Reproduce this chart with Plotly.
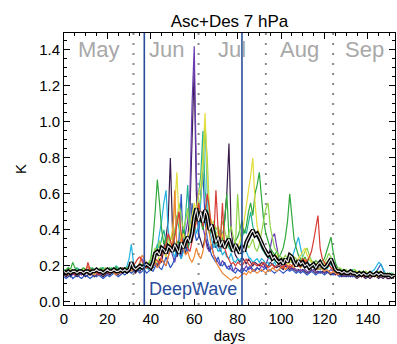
import plotly.graph_objects as go

# ---------------- data ----------------
DAYS = list(range(153))
MONTH_NAMES = ["May", "Jun", "Jul", "Aug", "Sep"]
MONTH_STARTS = [0, 32, 62, 93, 124, 153]   # day index where each month begins
DEEPWAVE = [37, 82]                         # campaign window
X_TICKS = [0, 20, 40, 60, 80, 100, 120, 140]
Y_TICKS = [0.0, 0.2, 0.4, 0.6, 0.8, 1.0, 1.2, 1.4]

purple = [
 0.16,0.15,0.17,0.16,0.15,0.16,0.17,0.16,0.15,0.16,
 0.17,0.16,0.15,0.16,0.17,0.18,0.16,0.15,0.17,0.16,
 0.17,0.18,0.16,0.17,0.19,0.17,0.16,0.18,0.17,0.16,
 0.17,0.19,0.18,0.17,0.18,0.22,0.24,0.21,0.19,0.20,
 0.18,0.20,0.22,0.19,0.21,0.24,0.22,0.20,0.25,0.30,
 0.26,0.22,0.28,0.30,0.25,0.32,0.38,0.45,0.60,1.10,
 1.42,0.70,0.40,0.50,0.42,0.35,0.30,0.28,0.32,0.26,
 0.24,0.22,0.20,0.23,0.21,0.19,0.20,0.18,0.17,0.19,
 0.18,0.17,0.19,0.18,0.20,0.18,0.19,0.17,0.18,0.19,
 0.18,0.20,0.19,0.21,0.24,0.30,0.36,0.38,0.32,0.24,
 0.22,0.20,0.21,0.19,0.20,0.18,0.19,0.18,0.17,0.18,
 0.17,0.18,0.17,0.16,0.17,0.18,0.17,0.16,0.17,0.16,
 0.17,0.16,0.17,0.18,0.17,0.16,0.15,0.16,0.15,0.16,
 0.15,0.16,0.15,0.14,0.15,0.16,0.15,0.14,0.15,0.14,
 0.15,0.14,0.15,0.16,0.15,0.14,0.15,0.14,0.15,0.14,
 0.14,0.15,0.14]

dark = [
 0.15,0.14,0.15,0.14,0.16,0.15,0.14,0.15,0.16,0.15,
 0.14,0.15,0.16,0.15,0.14,0.15,0.16,0.15,0.14,0.15,
 0.16,0.15,0.16,0.17,0.16,0.15,0.17,0.16,0.17,0.16,
 0.17,0.18,0.17,0.16,0.18,0.17,0.19,0.18,0.20,0.19,
 0.21,0.19,0.22,0.20,0.24,0.22,0.30,0.36,0.45,0.80,
 0.40,0.30,0.25,0.28,0.24,0.30,0.27,0.35,0.50,0.90,
 1.30,0.60,0.38,0.34,0.30,0.36,0.32,0.28,0.30,0.34,
 0.30,0.32,0.28,0.35,0.45,0.60,0.88,0.40,0.30,0.26,
 0.24,0.22,0.25,0.23,0.21,0.24,0.22,0.20,0.22,0.21,
 0.20,0.22,0.21,0.19,0.20,0.22,0.21,0.20,0.19,0.20,
 0.19,0.18,0.20,0.19,0.18,0.19,0.18,0.17,0.18,0.17,
 0.18,0.17,0.16,0.17,0.18,0.17,0.16,0.17,0.16,0.17,
 0.16,0.17,0.16,0.15,0.16,0.15,0.16,0.15,0.14,0.15,
 0.14,0.15,0.14,0.15,0.14,0.13,0.14,0.15,0.14,0.13,
 0.14,0.13,0.14,0.15,0.14,0.13,0.14,0.13,0.14,0.13,
 0.13,0.14,0.13]

blue = [
 0.14,0.13,0.14,0.15,0.13,0.14,0.15,0.14,0.13,0.14,
 0.15,0.14,0.13,0.14,0.15,0.14,0.15,0.14,0.13,0.14,
 0.15,0.14,0.15,0.16,0.15,0.14,0.15,0.16,0.15,0.16,
 0.17,0.16,0.17,0.18,0.17,0.16,0.17,0.18,0.16,0.17,
 0.18,0.17,0.20,0.22,0.19,0.18,0.21,0.25,0.22,0.19,
 0.21,0.24,0.27,0.35,0.60,0.30,0.30,0.28,0.36,0.55,
 0.40,0.34,0.36,0.60,0.72,0.45,0.35,0.30,0.26,0.24,
 0.22,0.25,0.21,0.20,0.22,0.19,0.18,0.21,0.17,0.16,
 0.18,0.17,0.16,0.18,0.17,0.19,0.20,0.18,0.17,0.19,
 0.18,0.17,0.18,0.19,0.17,0.18,0.17,0.16,0.17,0.18,
 0.17,0.16,0.17,0.18,0.17,0.18,0.17,0.16,0.17,0.16,
 0.17,0.16,0.15,0.16,0.17,0.16,0.15,0.16,0.17,0.16,
 0.15,0.16,0.17,0.16,0.15,0.16,0.15,0.14,0.15,0.14,
 0.15,0.14,0.15,0.14,0.15,0.14,0.15,0.16,0.15,0.14,
 0.15,0.14,0.15,0.16,0.17,0.19,0.21,0.18,0.15,0.14,
 0.15,0.14,0.15]

cyan = [
 0.16,0.17,0.16,0.18,0.17,0.16,0.17,0.18,0.17,0.16,
 0.17,0.16,0.17,0.18,0.17,0.16,0.17,0.18,0.19,0.17,
 0.18,0.17,0.18,0.19,0.18,0.17,0.18,0.19,0.18,0.20,
 0.24,0.32,0.22,0.19,0.20,0.18,0.19,0.21,0.19,0.18,
 0.20,0.22,0.26,0.30,0.38,0.45,0.55,0.62,0.40,0.30,
 0.28,0.25,0.30,0.27,0.24,0.28,0.32,0.30,0.35,0.40,
 0.45,0.38,0.42,0.55,0.85,1.00,0.60,0.40,0.35,0.30,
 0.32,0.28,0.30,0.26,0.28,0.25,0.24,0.27,0.23,0.22,
 0.24,0.23,0.25,0.30,0.28,0.25,0.24,0.22,0.23,0.24,
 0.22,0.24,0.23,0.21,0.22,0.20,0.21,0.22,0.20,0.21,
 0.20,0.22,0.21,0.24,0.26,0.24,0.28,0.32,0.36,0.30,
 0.24,0.22,0.20,0.21,0.19,0.20,0.19,0.18,0.19,0.20,
 0.19,0.18,0.20,0.21,0.19,0.18,0.17,0.18,0.17,0.16,
 0.17,0.16,0.17,0.16,0.15,0.16,0.17,0.16,0.15,0.16,
 0.15,0.16,0.17,0.18,0.20,0.22,0.21,0.18,0.16,0.15,
 0.16,0.15,0.16]

teal = [
 0.18,0.17,0.19,0.18,0.17,0.18,0.19,0.18,0.17,0.18,
 0.17,0.18,0.19,0.18,0.17,0.18,0.17,0.18,0.19,0.18,
 0.17,0.18,0.19,0.18,0.20,0.19,0.18,0.19,0.18,0.19,
 0.20,0.22,0.21,0.19,0.20,0.21,0.20,0.22,0.21,0.20,
 0.22,0.24,0.28,0.32,0.30,0.35,0.40,0.33,0.30,0.28,
 0.32,0.38,0.48,0.40,0.34,0.30,0.45,0.65,0.40,0.45,
 0.52,0.45,0.60,0.70,0.95,0.62,0.50,0.45,0.40,0.42,
 0.38,0.35,0.40,0.36,0.32,0.35,0.30,0.28,0.32,0.30,
 0.28,0.30,0.35,0.40,0.38,0.45,0.50,0.42,0.38,0.36,
 0.34,0.30,0.28,0.26,0.25,0.24,0.26,0.23,0.22,0.24,
 0.22,0.21,0.23,0.22,0.24,0.22,0.21,0.20,0.22,0.21,
 0.20,0.21,0.22,0.20,0.21,0.19,0.20,0.19,0.18,0.19,
 0.18,0.19,0.20,0.22,0.20,0.18,0.17,0.18,0.17,0.18,
 0.17,0.16,0.17,0.18,0.17,0.16,0.17,0.16,0.15,0.16,
 0.16,0.15,0.16,0.15,0.16,0.17,0.16,0.15,0.16,0.15,
 0.15,0.16,0.15]

green = [
 0.17,0.18,0.19,0.18,0.22,0.19,0.18,0.17,0.18,0.19,
 0.18,0.17,0.18,0.19,0.18,0.17,0.18,0.19,0.18,0.17,
 0.18,0.19,0.18,0.17,0.19,0.18,0.19,0.18,0.19,0.18,
 0.19,0.20,0.19,0.18,0.20,0.19,0.21,0.20,0.22,0.21,
 0.24,0.35,0.50,0.68,0.55,0.40,0.32,0.36,0.30,0.34,
 0.38,0.30,0.34,0.32,0.36,0.40,0.35,0.30,0.34,0.38,
 0.42,0.50,0.55,0.45,0.40,0.48,0.42,0.38,0.40,0.35,
 0.32,0.36,0.40,0.34,0.45,0.60,0.36,0.32,0.30,0.34,
 0.36,0.40,0.45,0.38,0.42,0.50,0.55,0.48,0.60,0.65,
 0.72,0.58,0.45,0.38,0.34,0.30,0.28,0.26,0.28,0.25,
 0.27,0.30,0.36,0.45,0.60,0.48,0.35,0.30,0.26,0.24,
 0.23,0.25,0.22,0.24,0.22,0.21,0.23,0.22,0.21,0.23,
 0.24,0.28,0.32,0.36,0.28,0.22,0.19,0.18,0.17,0.18,
 0.17,0.16,0.17,0.16,0.17,0.16,0.15,0.16,0.17,0.16,
 0.15,0.16,0.15,0.16,0.15,0.16,0.15,0.16,0.15,0.16,
 0.15,0.14,0.15]

lime = [
 0.16,0.17,0.16,0.17,0.18,0.17,0.16,0.17,0.18,0.17,
 0.16,0.17,0.18,0.17,0.16,0.17,0.18,0.17,0.18,0.19,
 0.18,0.17,0.18,0.19,0.18,0.17,0.18,0.17,0.18,0.19,
 0.18,0.20,0.19,0.18,0.19,0.20,0.19,0.21,0.20,0.22,
 0.24,0.26,0.30,0.28,0.34,0.30,0.28,0.32,0.36,0.30,
 0.34,0.40,0.45,0.55,0.48,0.40,0.45,0.52,0.40,0.36,
 0.40,0.45,0.50,0.58,0.70,0.98,0.80,0.50,0.42,0.45,
 0.40,0.42,0.38,0.45,0.40,0.35,0.38,0.42,0.36,0.32,
 0.60,0.40,0.30,0.28,0.34,0.30,0.32,0.35,0.30,0.28,
 0.32,0.38,0.45,0.52,0.55,0.42,0.36,0.30,0.28,0.26,
 0.25,0.24,0.26,0.24,0.22,0.23,0.25,0.24,0.22,0.23,
 0.25,0.28,0.30,0.26,0.23,0.22,0.21,0.22,0.20,0.21,
 0.22,0.24,0.27,0.25,0.22,0.20,0.18,0.19,0.18,0.17,
 0.18,0.17,0.16,0.17,0.18,0.17,0.16,0.17,0.16,0.17,
 0.16,0.17,0.16,0.15,0.16,0.17,0.16,0.15,0.16,0.15,
 0.16,0.15,0.16]

yellow = [
 0.17,0.16,0.17,0.18,0.17,0.16,0.17,0.16,0.17,0.18,
 0.17,0.16,0.17,0.16,0.17,0.18,0.17,0.16,0.17,0.18,
 0.17,0.18,0.17,0.18,0.17,0.16,0.17,0.18,0.17,0.18,
 0.19,0.18,0.19,0.18,0.19,0.20,0.19,0.18,0.20,0.19,
 0.21,0.20,0.23,0.22,0.26,0.30,0.28,0.25,0.30,0.34,
 0.40,0.52,0.72,0.45,0.34,0.38,0.32,0.36,0.40,0.48,
 0.55,0.50,0.60,0.65,0.80,1.05,0.70,0.48,0.45,0.40,
 0.36,0.40,0.34,0.38,0.32,0.30,0.34,0.30,0.28,0.32,
 0.30,0.34,0.38,0.45,0.55,0.62,0.70,0.80,0.55,0.42,
 0.38,0.34,0.30,0.28,0.26,0.28,0.25,0.24,0.26,0.23,
 0.24,0.22,0.23,0.21,0.22,0.24,0.23,0.22,0.24,0.26,
 0.28,0.30,0.26,0.24,0.22,0.21,0.20,0.22,0.21,0.20,
 0.21,0.22,0.20,0.19,0.18,0.17,0.18,0.17,0.16,0.17,
 0.16,0.17,0.16,0.15,0.16,0.17,0.16,0.15,0.16,0.15,
 0.16,0.15,0.16,0.15,0.14,0.15,0.16,0.15,0.14,0.15,
 0.15,0.14,0.15]

orange = [
 0.15,0.16,0.15,0.16,0.17,0.16,0.15,0.16,0.17,0.16,
 0.18,0.20,0.17,0.16,0.15,0.16,0.17,0.16,0.15,0.16,
 0.17,0.16,0.17,0.16,0.15,0.17,0.16,0.17,0.18,0.17,
 0.18,0.17,0.18,0.19,0.20,0.22,0.26,0.24,0.20,0.19,
 0.18,0.20,0.22,0.19,0.21,0.24,0.22,0.20,0.25,0.28,
 0.32,0.62,0.30,0.30,0.35,0.30,0.26,0.28,0.24,0.22,
 0.25,0.30,0.26,0.24,0.28,0.35,0.45,0.38,0.30,0.26,
 0.22,0.20,0.18,0.16,0.15,0.14,0.13,0.12,0.13,0.14,
 0.13,0.14,0.15,0.16,0.15,0.17,0.16,0.18,0.17,0.16,
 0.17,0.18,0.17,0.16,0.18,0.17,0.19,0.18,0.17,0.18,
 0.19,0.20,0.18,0.19,0.21,0.20,0.19,0.22,0.20,0.19,
 0.21,0.24,0.22,0.20,0.19,0.20,0.19,0.18,0.19,0.18,
 0.17,0.18,0.17,0.16,0.17,0.16,0.15,0.16,0.15,0.16,
 0.15,0.16,0.15,0.16,0.15,0.14,0.15,0.14,0.15,0.16,
 0.15,0.14,0.15,0.14,0.15,0.16,0.15,0.14,0.15,0.14,
 0.14,0.15,0.14]

red = [
 0.16,0.15,0.16,0.17,0.16,0.15,0.16,0.17,0.16,0.15,
 0.16,0.22,0.18,0.16,0.17,0.16,0.15,0.16,0.17,0.16,
 0.17,0.16,0.18,0.17,0.16,0.17,0.18,0.19,0.18,0.17,
 0.18,0.19,0.20,0.22,0.24,0.25,0.22,0.20,0.19,0.21,
 0.20,0.22,0.24,0.23,0.21,0.26,0.28,0.32,0.38,0.34,
 0.30,0.36,0.42,0.50,0.38,0.32,0.35,0.30,0.28,0.34,
 0.40,0.45,0.55,0.48,0.42,0.50,0.60,0.52,0.40,0.35,
 0.62,0.40,0.32,0.55,0.30,0.26,0.23,0.21,0.22,0.20,
 0.22,0.21,0.20,0.22,0.24,0.21,0.20,0.22,0.21,0.20,
 0.21,0.20,0.22,0.21,0.19,0.20,0.21,0.19,0.20,0.21,
 0.20,0.19,0.21,0.20,0.19,0.20,0.22,0.21,0.20,0.22,
 0.24,0.22,0.23,0.25,0.28,0.34,0.42,0.48,0.30,0.24,
 0.22,0.20,0.21,0.19,0.18,0.17,0.16,0.17,0.16,0.15,
 0.16,0.15,0.16,0.15,0.16,0.15,0.16,0.15,0.14,0.15,
 0.15,0.16,0.15,0.14,0.15,0.14,0.15,0.16,0.15,0.14,
 0.15,0.14,0.15]

mean = [
 0.17,0.16,0.17,0.16,0.17,0.17,0.16,0.17,0.17,0.16,
 0.17,0.17,0.16,0.17,0.17,0.18,0.17,0.17,0.16,0.17,
 0.18,0.17,0.17,0.18,0.17,0.17,0.18,0.17,0.18,0.17,
 0.18,0.22,0.19,0.18,0.19,0.20,0.19,0.20,0.21,0.20,
 0.19,0.22,0.27,0.28,0.26,0.30,0.29,0.27,0.31,0.30,
 0.28,0.32,0.29,0.27,0.33,0.30,0.34,0.36,0.33,0.38,
 0.47,0.52,0.45,0.50,0.44,0.51,0.48,0.40,0.43,0.37,
 0.33,0.36,0.31,0.34,0.30,0.33,0.35,0.31,0.28,0.32,
 0.29,0.27,0.31,0.28,0.33,0.36,0.38,0.40,0.37,0.38,
 0.36,0.33,0.30,0.28,0.26,0.27,0.24,0.25,0.23,0.22,
 0.23,0.21,0.24,0.22,0.26,0.25,0.22,0.20,0.23,0.21,
 0.22,0.20,0.21,0.19,0.20,0.21,0.19,0.21,0.22,0.20,
 0.19,0.20,0.22,0.24,0.21,0.18,0.17,0.17,0.16,0.17,
 0.16,0.16,0.17,0.16,0.16,0.15,0.16,0.15,0.16,0.15,
 0.15,0.16,0.15,0.15,0.16,0.15,0.16,0.15,0.15,0.15,
 0.15,0.14,0.15]

SERIES = [
    ("dark", dark, "#3a1c4c"),
    ("purple", purple, "#6a3cb0"),
    ("blue", blue, "#2b55c2"),
    ("cyan", cyan, "#22b3e0"),
    ("teal", teal, "#22b394"),
    ("green", green, "#2ea83a"),
    ("lime", lime, "#8fd44a"),
    ("yellow", yellow, "#e2dc3c"),
    ("orange", orange, "#f08430"),
    ("red", red, "#d83a34"),
]

# ---------------- figure ----------------
fig = go.Figure()
for name, vals, col in SERIES:
    fig.add_trace(go.Scatter(x=DAYS[:len(vals)], y=vals, mode="lines",
                             line=dict(color=col, width=1.2), name=name,
                             showlegend=False, hoverinfo="skip"))
fig.add_trace(go.Scatter(x=DAYS[:len(mean)], y=mean, mode="lines",
                         line=dict(color="black", width=4), showlegend=False))
fig.add_trace(go.Scatter(x=DAYS[:len(mean)], y=mean, mode="lines",
                         line=dict(color="#e6e6e6", width=1.1), showlegend=False))

shapes = []
for d in MONTH_STARTS[1:-1]:
    shapes.append(dict(type="line", xref="x", yref="paper", x0=d, x1=d, y0=0, y1=1,
                       line=dict(color="#8a8a8a", width=2, dash="2px,8px"), layer="below"))
for d in DEEPWAVE:
    shapes.append(dict(type="line", xref="x", yref="paper", x0=d, x1=d, y0=0, y1=1,
                       line=dict(color="#2a4c9c", width=1.6)))

annotations = []
for i, m in enumerate(MONTH_NAMES):
    mid = (MONTH_STARTS[i] + MONTH_STARTS[i + 1]) / 2
    annotations.append(dict(x=mid, y=1.4, xref="x", yref="y", text=m, showarrow=False,
                            font=dict(size=22, color="#a8a8a8", family="Liberation Sans")))
annotations.append(dict(x=(DEEPWAVE[0] + DEEPWAVE[1]) / 2, y=0.072, xref="x", yref="y",
                        text="DeepWave", showarrow=False,
                        font=dict(size=18, color="#2a4c9c", family="Liberation Sans")))

axis_common = dict(showline=True, linecolor="black", linewidth=1, mirror="allticks",
                   ticks="inside", ticklen=6, tickcolor="black", showgrid=False,
                   zeroline=False, tickfont=dict(size=15, color="black"))

fig.update_layout(
    width=397, height=344,
    margin=dict(l=64, r=2, t=33, b=39),
    paper_bgcolor="white", plot_bgcolor="white",
    font=dict(family="Liberation Sans", color="black"),
    title=dict(text="Asc+Des 7 hPa", x=0.578, xanchor="center", y=0.94, yanchor="middle",
               font=dict(size=17, color="black")),
    shapes=shapes, annotations=annotations,
    xaxis=dict(range=[0, 152.5], tickvals=X_TICKS,
               minor=dict(dtick=5, ticks="inside", ticklen=3, tickcolor="black"),
               title=dict(text="days", font=dict(size=15), standoff=2),
               **axis_common),
    yaxis=dict(range=[-0.017, 1.494], tickvals=Y_TICKS, tickformat=".1f",
               minor=dict(dtick=0.05, ticks="inside", ticklen=3, tickcolor="black"),
               title=dict(text="K", font=dict(size=15), standoff=8),
               **axis_common),
)

fig.write_html("out.html")
